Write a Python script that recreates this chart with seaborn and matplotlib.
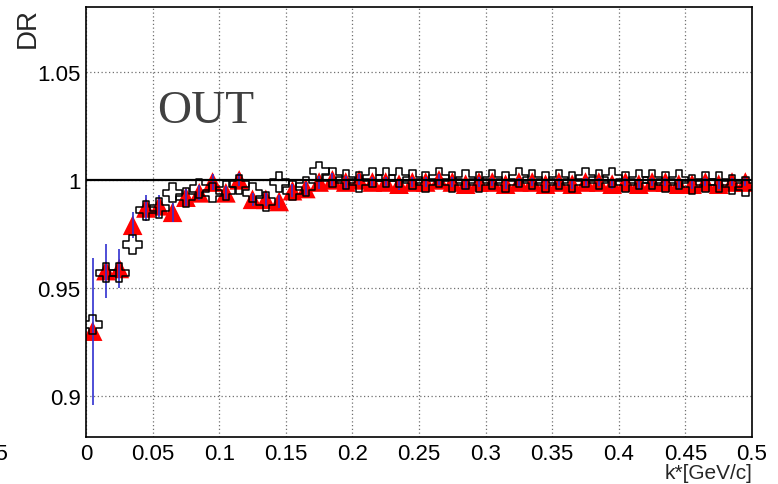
import matplotlib
matplotlib.use("Agg")
import matplotlib.pyplot as plt
import numpy as np
import pandas as pd
import seaborn as sns
from matplotlib.ticker import FixedLocator, FixedFormatter

# k* bin centres [GeV/c]
k_star = [0.005, 0.015, 0.025, 0.035, 0.045, 0.055, 0.065, 0.075, 0.085, 0.095,
          0.105, 0.115, 0.125, 0.135, 0.145, 0.155, 0.165, 0.175, 0.185, 0.195,
          0.205, 0.215, 0.225, 0.235, 0.245, 0.255, 0.265, 0.275, 0.285, 0.295,
          0.305, 0.315, 0.325, 0.335, 0.345, 0.355, 0.365, 0.375, 0.385, 0.395,
          0.405, 0.415, 0.425, 0.435, 0.445, 0.455, 0.465, 0.475, 0.485, 0.495]

# double ratio, open crosses
dr_cross = [0.933, 0.957, 0.957, 0.970, 0.986, 0.987, 0.994, 0.992, 0.996, 0.994,
            0.995, 0.998, 0.994, 0.990, 0.999, 0.995, 0.997, 1.004, 1.001, 1.000,
            0.999, 1.001, 1.001, 1.001, 1.000, 0.999, 1.001, 0.999, 1.000, 0.999,
            1.000, 0.999, 1.001, 1.000, 0.999, 1.000, 0.999, 1.001, 1.000, 1.001,
            0.999, 1.000, 1.000, 0.999, 1.000, 0.998, 0.999, 0.999, 0.998, 0.997]

# double ratio, full triangles, with statistical errors
dr_tri = [0.930, 0.958, 0.959, 0.979, 0.987, 0.988, 0.985, 0.992, 0.994, 0.999,
          0.994, 1.000, 0.991, 0.991, 0.990, 0.995, 0.996, 0.999, 1.000, 0.999,
          1.000, 0.999, 0.999, 0.998, 0.999, 0.999, 1.000, 0.999, 0.998, 0.999,
          0.999, 0.998, 0.999, 0.999, 0.998, 0.999, 0.998, 0.999, 0.999, 0.998,
          0.999, 0.998, 0.999, 0.999, 0.998, 0.998, 0.999, 0.998, 0.999, 0.999]
dr_tri_err = [0.034, 0.0125, 0.009, 0.006, 0.006, 0.005, 0.0045, 0.004, 0.0035, 0.0035,
              0.003, 0.003, 0.003, 0.003, 0.003, 0.003, 0.003, 0.003, 0.003, 0.003,
              0.0025, 0.0025, 0.0025, 0.0025, 0.0025, 0.0025, 0.0025, 0.0025, 0.0025, 0.0025,
              0.002, 0.002, 0.002, 0.002, 0.002, 0.002, 0.002, 0.002, 0.002, 0.002,
              0.002, 0.002, 0.002, 0.002, 0.002, 0.002, 0.002, 0.002, 0.002, 0.002]

x_ticks = [0, 0.05, 0.1, 0.15, 0.2, 0.25, 0.3, 0.35, 0.4, 0.45, 0.5]
x_tick_labels = ["0", "0.05", "0.1", "0.15", "0.2", "0.25", "0.3", "0.35", "0.4", "0.45", "0.5"]
y_ticks = [0.9, 0.95, 1.0, 1.05]
y_tick_labels = ["0.9", "0.95", "1", "1.05"]

df = pd.DataFrame({"k": k_star, "cross": dr_cross, "tri": dr_tri, "err": dr_tri_err})

sns.set_theme(style="white")
plt.rcParams["font.family"] = ["Liberation Sans", "DejaVu Sans"]

fig = plt.figure(figsize=(7.78, 4.85), dpi=100)
fig.patch.set_facecolor("white")
ax = fig.add_axes([86 / 778, 1 - 438 / 485, 666 / 778, 430 / 485])
ax.set_facecolor("white")

# full red triangles
sns.scatterplot(data=df, x="k", y="tri", marker="^", s=200, color="#ff0000",
                edgecolor="none", linewidth=0, ax=ax, zorder=2)
# error bars
ax.vlines(df["k"], df["tri"] - df["err"], df["tri"] + df["err"],
          color="#3030d0", linewidth=1.2, zorder=3)
# reference line at unity
ax.axhline(1.0, color="black", linewidth=1.6, zorder=3.5)
# open crosses
sns.scatterplot(data=df, x="k", y="cross", marker="P", s=190, facecolor="none",
                edgecolor="black", linewidth=1.1, ax=ax, zorder=4)

ax.set_xlim(0, 0.5)
ax.set_ylim(0.881, 1.080)

ax.xaxis.set_major_locator(FixedLocator(x_ticks))
ax.xaxis.set_major_formatter(FixedFormatter(x_tick_labels))
ax.yaxis.set_major_locator(FixedLocator(y_ticks))
ax.yaxis.set_major_formatter(FixedFormatter(y_tick_labels))

ax.grid(True, color="#707070", linestyle=(0, (1, 2)), linewidth=0.9)
ax.tick_params(axis="both", direction="in", colors="black", labelsize=16, width=1.0)
ax.tick_params(axis="x", length=9.5, pad=4.5)
ax.tick_params(axis="y", length=14.5, pad=4)
for s in ax.spines.values():
    s.set_color("black")
    s.set_linewidth(1.2)

ax.set_xlabel("k*[GeV/c]", fontsize=15, loc="right")
ax.xaxis.label.set_va("top")
ax.xaxis.set_label_coords(1.0, (438 - 464) / 430)

ax.set_ylabel("DR", fontsize=20, loc="top")
ax.yaxis.label.set_rotation_mode("default")
ax.yaxis.label.set_ha("center")
ax.yaxis.label.set_va("top")
ax.yaxis.set_label_coords((28 - 86) / 666, 1.0)

ax.text((157 - 86) / 666, (438 - 123) / 430, "OUT", transform=ax.transAxes,
        fontsize=34, family=["Liberation Serif", "DejaVu Serif"], color="#404040",
        ha="left", va="baseline")

# tail of the neighbouring panel's last tick label
fig.text(8 / 778, 1 - 444 / 485, "0.5", ha="right", va="top", fontsize=16, color="black")

fig.savefig("out.png", dpi=100, facecolor="white")
